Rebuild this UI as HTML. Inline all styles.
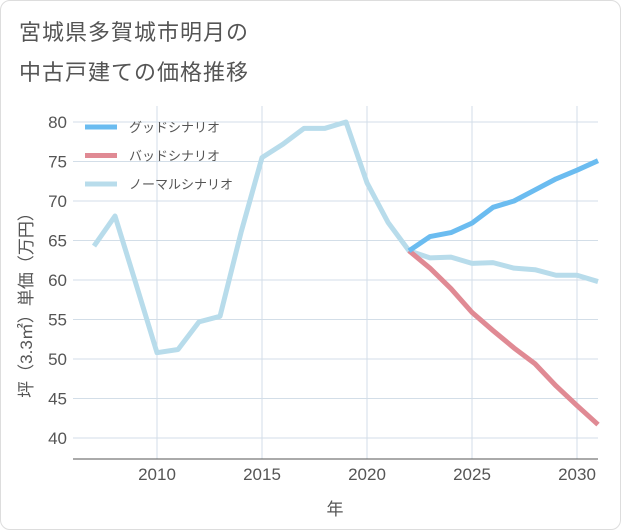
<!DOCTYPE html>
<html><head><meta charset="utf-8"><style>
body{margin:0;background:#fff;font-family:"Liberation Sans","Noto Sans CJK JP",sans-serif;}
#wrap{position:relative;width:621px;height:530px;box-sizing:border-box;border:1px solid #ddd;border-radius:10px;background:#fff;overflow:hidden}
.t{position:absolute;left:18px;font-size:22px;color:#555;letter-spacing:1px}
</style></head><body>
<div id="wrap">
<div class="t" style="top:14px">宮城県多賀城市明月の</div>
<div class="t" style="top:54px">中古戸建ての価格推移</div>
<svg id="c" width="621" height="530" style="position:absolute;left:0;top:0"></svg>
</div>
<script>
const years=[2007,2008,2009,2010,2011,2012,2013,2014,2015,2016,2017,2018,2019,2020,2021,2022,2023,2024,2025,2026,2027,2028,2029,2030,2031];
const normalVals=[64.3,68.1,59.5,50.8,51.2,54.7,55.4,66,75.5,77.2,79.2,79.2,80,72.3,67.3,63.7,62.8,62.9,62.1,62.2,61.5,61.3,60.6,60.6,59.8];
const futureYears=[2022,2023,2024,2025,2026,2027,2028,2029,2030,2031];
const goodVals=[63.7,65.5,66,67.2,69.2,70,71.4,72.8,73.9,75.1];
const badVals=[63.7,61.5,58.9,55.9,53.6,51.4,49.4,46.6,44.1,41.7];
const yTicks=[40,45,50,55,60,65,70,75,80];
const xTicks=[2010,2015,2020,2025,2030];
const legendLabels=["グッドシナリオ","バッドシナリオ","ノーマルシナリオ"];
const colors=["#6bbcf0","#e08a94","#b8dceb"];
const ns="http://www.w3.org/2000/svg",svg=document.getElementById('c');
const L=72,R=597,T=105,B=458;
const x=v=>156+(v-2010)*21, y=v=>437-(v-40)*7.9;
function mk(t,a,p){const e=document.createElementNS(ns,t);for(const k in a)e.setAttribute(k,a[k]);(p||svg).appendChild(e);return e;}
for(const v of yTicks){
 const g=mk('line',{x1:L,x2:R,y1:y(v),y2:y(v),stroke:'#d3dee8','stroke-width':1});
 
 
 const t=mk('text',{x:66,y:y(v)+6,'text-anchor':'end','font-size':17,fill:'#555'});t.textContent=v;
 
 
}
for(const v of xTicks){
 const g=mk('line',{x1:x(v),x2:x(v),y1:T,y2:B,stroke:'#d3dee8','stroke-width':1});
 
 
 const t=mk('text',{x:x(v),y:479,'text-anchor':'middle','font-size':17,fill:'#555'});t.textContent=v;
 
 
}
const ax=mk('line',{x1:L,x2:R,y1:B,y2:B,stroke:'#555','stroke-width':1});


const xt=mk('text',{x:334,y:514,'text-anchor':'middle','font-size':17,fill:'#555'});xt.textContent='年';


const yt=mk('text',{x:0,y:0,'text-anchor':'middle','font-size':17,fill:'#555',transform:'translate(31,300) rotate(-90)'});yt.textContent='坪（3.3㎡）単価（万円）';


function line(xs,vs,c,n){
 const p=mk('polyline',{points:xs.map((v,i)=>x(v)+','+y(vs[i])).join(' '),fill:'none',stroke:c,'stroke-width':5,'stroke-linejoin':'round'});
 
 
}
line(years,normalVals,colors[2],'normal-scenario-line');
line(futureYears,badVals,colors[1],'bad-scenario-line');
line(futureYears,goodVals,colors[0],'good-scenario-line');
legendLabels.forEach((s,i)=>{
 const yy=126+i*28.5;
 const l=mk('line',{x1:84,x2:116,y1:yy,y2:yy,stroke:colors[i],'stroke-width':5});
 
 
 const t=mk('text',{x:128,y:yy+5,'font-size':13,fill:'#555'});t.textContent=s;
 
 
});
</script>
</body></html>
